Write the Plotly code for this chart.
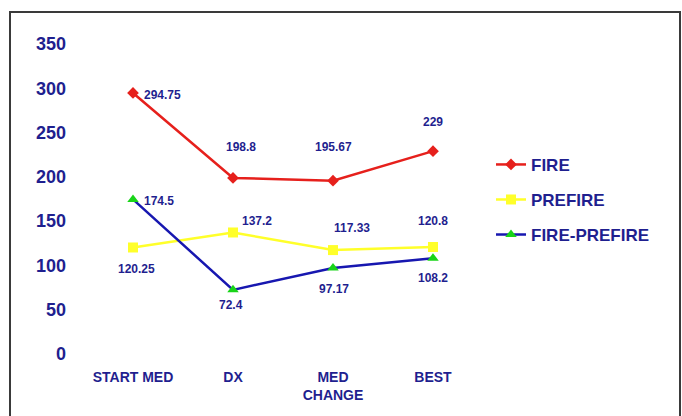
import plotly.graph_objects as go

# Stages along the x axis
stages = ["START MED", "DX", "MED<br>CHANGE", "BEST"]

# Series values per stage
fire = [294.75, 198.8, 195.67, 229]
prefire = [120.25, 137.2, 117.33, 120.8]
fire_minus_prefire = [174.5, 72.4, 97.17, 108.2]

y_ticks = [0, 50, 100, 150, 200, 250, 300, 350]

NAVY = "#1f1f8f"
FONT = "Liberation Sans, Arial, sans-serif"

series = [
    dict(name="FIRE", values=fire, color="#e6201c", marker_color="#e6201c",
         symbol="diamond", size=9, legend="legend",
         offsets=[(29, -2), (8, 31), (0, 34), (0, 29)]),
    dict(name="PREFIRE", values=prefire, color="#ffff2a", marker_color="#ffff2a",
         symbol="square", size=10, legend="legend2",
         offsets=[(3, -22), (24, 11), (19, 22), (0, 26)]),
    dict(name="FIRE-PREFIRE", values=fire_minus_prefire, color="#1717b0",
         marker_color="#19d419", symbol="triangle-up", size=10, legend="legend3",
         offsets=[(26, -2), (-2, -15), (1, -21), (0, -20)]),
]

fig = go.Figure()
annotations = []
for s in series:
    fig.add_trace(go.Scatter(
        x=stages, y=s["values"], name=s["name"], mode="lines+markers",
        line=dict(color=s["color"], width=2.5),
        marker=dict(symbol=s["symbol"], size=s["size"], color=s["marker_color"],
                    line=dict(width=0)),
        legend=s["legend"],
    ))
    for st, v, (dx, dy) in zip(stages, s["values"], s["offsets"]):
        annotations.append(dict(
            x=st, y=v, xref="x", yref="y", text=f"{v:g}", showarrow=False,
            xshift=dx, yshift=dy,
            font=dict(family=FONT, size=12, color=NAVY, weight="bold"),
        ))

legend_style = dict(
    font=dict(family=FONT, size=17, color=NAVY, weight="bold"),
    bgcolor="rgba(0,0,0,0)", itemwidth=30, xanchor="left", yanchor="middle",
)

fig.update_layout(
    width=682, height=416,
    margin=dict(l=83, r=199, t=44, b=62),
    paper_bgcolor="white", plot_bgcolor="white",
    showlegend=True,
    legend=dict(x=1.02, y=0.61, **legend_style),
    legend2=dict(x=1.02, y=0.497, **legend_style),
    legend3=dict(x=1.02, y=0.384, **legend_style),
    annotations=annotations,
    xaxis=dict(
        range=[-0.5, 3.5], showgrid=False, zeroline=False, showline=False,
        ticks="", ticklabelstandoff=13,
        tickfont=dict(family=FONT, size=14, color=NAVY, weight="bold"),
    ),
    yaxis=dict(
        range=[0, 350], tickvals=y_ticks, showgrid=False, zeroline=False,
        showline=False, ticks="", ticklabelstandoff=16,
        tickfont=dict(family=FONT, size=18, color=NAVY, weight="bold"),
    ),
    shapes=[dict(
        type="rect", xref="paper", yref="paper",
        x0=(10 - 83) / 400, x1=(680 - 83) / 400,
        y0=(354 - 430) / 310, y1=(354 - 12) / 310,
        line=dict(color="#3a3a3a", width=2), fillcolor="rgba(0,0,0,0)",
        layer="below",
    )],
)

fig.write_html("out.html")
